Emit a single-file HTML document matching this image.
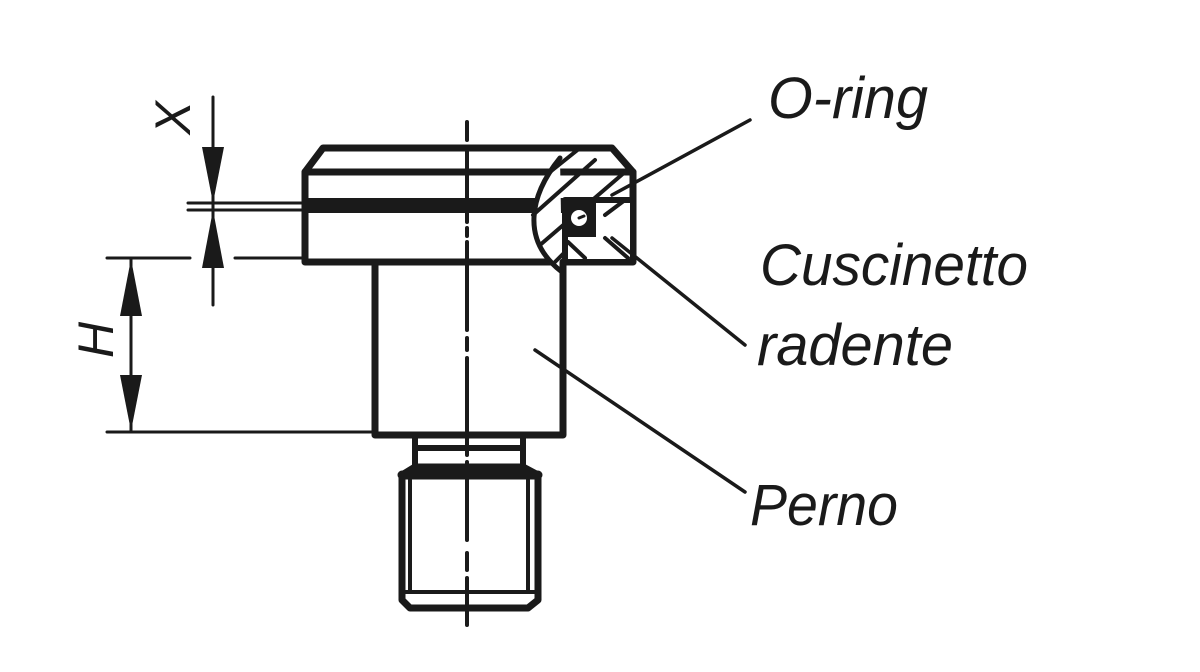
<!DOCTYPE html>
<html><head><style>body{margin:0;background:#fff}svg{display:block}</style></head><body>
<svg width="1200" height="672" viewBox="0 0 1200 672" xmlns="http://www.w3.org/2000/svg">
<g stroke="#1a1a1a" fill="none" stroke-linecap="round" stroke-linejoin="round">
<!-- centerline -->
<path d="M467 122V140M467 148V222M467 228V236M467 242V330M467 338V350M467 358V455M467 462V540M467 553V570M467 578V625" stroke-width="4"/>
<!-- head -->
<path d="M323 148H612L633 172V262H305V172Z" stroke-width="7"/>
<path d="M305 172H633" stroke-width="7"/>
<rect x="308" y="198" width="325" height="15" fill="#1a1a1a" stroke="none"/>
<!-- cutaway -->
<path d="M560 158 C530 195 520 240 562 272" stroke-width="5" fill="#fff"/>
<path d="M550 172L580 148M533 215L595 160M540 245L625 172M555 262L565 252" stroke-width="4"/>
<rect x="565" y="200" width="68" height="62" fill="#fff" stroke-width="6"/>
<rect x="568" y="203" width="28" height="34" fill="#1a1a1a" stroke="none"/>
<circle cx="579" cy="218" r="8" fill="#fff" stroke="none"/>
<path d="M579 218L584 216" stroke-width="3"/>
<path d="M605 215L625 200M605 238L628 258M568 242L585 258" stroke-width="4"/>
<!-- body -->
<path d="M375 262V435H563V262" stroke-width="7"/>
<path d="M415 435V467M523 435V467M418 448H520" stroke-width="6"/>
<path d="M415 467H523L538 475V600L528 608H410L402 600V475Z" stroke-width="7"/>
<path d="M402 475H538" stroke-width="9"/>
<path d="M410 480V590M528 480V590M405 592H535" stroke-width="4"/>
<!-- dimensions -->
<g stroke-width="3">
<path d="M213 97V305M188 203H305M188 210H305M107 258H190M235 258H305M131 258V432M107 432H375"/>
</g>
<g fill="#1a1a1a" stroke="none">
<path d="M202 147H224L213 203Z"/><path d="M202 268H224L213 210Z"/>
<path d="M120 316H142L131 259Z"/><path d="M120 375H142L131 431Z"/>
</g>
<!-- leaders -->
<path d="M750 120L612 195M745 345L612 238M745 492L535 350" stroke-width="3.5"/>
</g>
<g font-family="Liberation Sans, sans-serif" font-style="italic" fill="#1a1a1a" font-size="58">
<text x="768" y="118" textLength="160" lengthAdjust="spacingAndGlyphs">O-ring</text>
<text x="760" y="285" textLength="268" lengthAdjust="spacingAndGlyphs">Cuscinetto</text>
<text x="757" y="365" textLength="196" lengthAdjust="spacingAndGlyphs">radente</text>
<text x="750" y="525" textLength="148" lengthAdjust="spacingAndGlyphs">Perno</text>
<text transform="translate(190 118) rotate(-90)" text-anchor="middle" font-size="50">X</text>
<text transform="translate(113 340) rotate(-90)" text-anchor="middle" font-size="50">H</text>
</g>
</svg>
</body></html>
